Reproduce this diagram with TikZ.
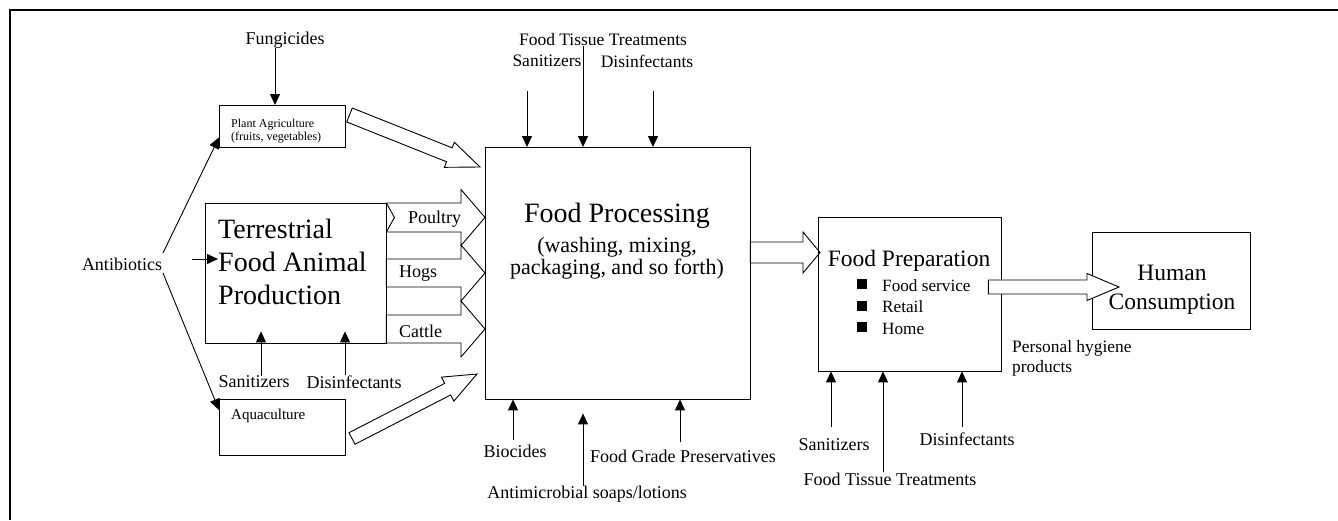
\documentclass[tikz,border=0pt]{standalone}
\usepackage{fontspec}
\setmainfont{Liberation Serif}
\usetikzlibrary{calc,arrows.meta}

\tikzset{
  box/.style={draw, line width=0.9pt, inner sep=0pt, anchor=north west},
  flow/.style={draw, fill=white, line width=0.9pt, line join=miter},
  inarrow/.style={line width=0.9pt, -{Triangle[length=11pt,width=10pt]}},
  lbl/.style={inner sep=0pt, font=\fontsize{18}{21}\selectfont},
  sublbl/.style={inner sep=0pt, font=\fontsize{17.5}{20}\selectfont},
  bigtxt/.style={inner sep=0pt, font=\fontsize{28}{33}\selectfont},
  midtxt/.style={inner sep=0pt, font=\fontsize{23.5}{29}\selectfont},
  bulletbox/.style={fill=black, rectangle, minimum size=10pt, inner sep=0pt},
}

% hollow block arrow: tail, tip, shaft half-width, head half-width, head length, tail notch depth
\newcommand\fatarrow[6]{%
  \coordinate (fahead) at ($(#2)!#5!(#1)$);
  \coordinate (fanotch) at ($(#1)!#6!(#2)$);
  \path[flow] ($(#1)!#3!90:(#2)$) -- ($(fahead)!#3!90:(#2)$) -- ($(fahead)!#4!90:(#2)$)
    -- (#2) -- ($(fahead)!#4!-90:(#2)$) -- ($(fahead)!#3!-90:(#2)$)
    -- ($(#1)!#3!-90:(#2)$) -- (fanotch) -- cycle;
}

\begin{document}
\begin{tikzpicture}[x=1pt,y=1pt]
\useasboundingbox (0,0) rectangle (1338,-520);
\draw[line width=2pt] (10,-520) -- (10,-10) -- (1338,-10);

% ---- box outlines (placed first so anchors exist) ----
\path (219,-105) node[minimum width=126pt, minimum height=42pt, inner sep=0pt, anchor=north west] (plant) {};
\path (205,-203) node[minimum width=181pt, minimum height=140pt, inner sep=0pt, anchor=north west] (terr) {};
\path (219,-399) node[minimum width=126pt, minimum height=56pt, inner sep=0pt, anchor=north west] (aqua) {};
\path (485,-147) node[minimum width=265pt, minimum height=252pt, inner sep=0pt, anchor=north west] (proc) {};
\path (818,-217) node[minimum width=183pt, minimum height=154pt, inner sep=0pt, anchor=north west] (prep) {};
\path (1092,-232) node[minimum width=158pt, minimum height=97pt, inner sep=0pt, anchor=north west] (human) {};

% ---- block arrows feeding food processing ----
\coordinate (plant-out) at (349.5,-115);
\coordinate (proc-in1) at (480,-167);
\fatarrow{plant-out}{proc-in1}{7.5pt}{13.5pt}{33pt}{0pt}
\coordinate (aqua-out) at (352,-438.5);
\coordinate (proc-in5) at (477,-374);
\fatarrow{aqua-out}{proc-in5}{6.5pt}{13.5pt}{33pt}{0pt}

\coordinate (poul-tail) at ($(terr.north east)+(0,-14.5pt)$);
\coordinate (poul-tip) at (proc.west |- poul-tail);
\fatarrow{poul-tail}{poul-tip}{14.5pt}{28pt}{24pt}{8pt}
\coordinate (hogs-tail) at ($(terr.north east)+(0,-70pt)$);
\coordinate (hogs-tip) at (proc.west |- hogs-tail);
\fatarrow{hogs-tail}{hogs-tip}{14pt}{28pt}{24pt}{0pt}
\coordinate (cat-tail) at ($(terr.north east)+(0,-126pt)$);
\coordinate (cat-tip) at (proc.west |- cat-tail);
\fatarrow{cat-tail}{cat-tip}{14pt}{28pt}{24pt}{0pt}

\coordinate (proc-out) at ($(proc.north east)+(0,-105.5pt)$);
\coordinate (prep-in) at ($(prep.west |- proc-out)+(2pt,0)$);
\fatarrow{proc-out}{prep-in}{10.5pt}{20.5pt}{17pt}{0pt}

% ---- box borders ----
\draw[line width=0.9pt] (plant.north west) rectangle (plant.south east);
\draw[line width=0.9pt] (terr.north west) rectangle (terr.south east);
\draw[line width=0.9pt] (aqua.north west) rectangle (aqua.south east);
\draw[line width=0.9pt] (proc.north west) rectangle (proc.south east);
\draw[line width=0.9pt] (prep.north west) rectangle (prep.south east);
\draw[line width=0.9pt] (human.north west) rectangle (human.south east);

% ---- food preparation to human consumption ----
\coordinate (prep-out) at ($(prep.north east)+(-13pt,-70pt)$);
\coordinate (human-in) at ($(human.north west)+(27pt,-55pt)$);
\fatarrow{prep-out}{human-in}{7pt}{13.5pt}{32pt}{0pt}

% ---- box texts ----
\node[inner sep=0pt, anchor=west, align=left, font=\fontsize{12}{13}\selectfont] (planttxt) at (231,-131) {Plant Agriculture\\(fruits, vegetables)};
\node[bigtxt, anchor=west, align=left] (terrtxt) at (218,-262) {Terrestrial\\Food Animal\\Production};
\node[inner sep=0pt, anchor=west, font=\fontsize{15}{18}\selectfont] (aquatxt) at (231,-416) {Aquaculture};
\node[lbl, anchor=west] (poultxt) at (408,-219) {Poultry};
\node[lbl, anchor=west] (hogstxt) at (399,-274) {Hogs};
\node[lbl, anchor=west] (cattxt) at (399,-331) {Cattle};

\node[bigtxt] (proctxt) at (617,-216) {Food Processing};
\node[inner sep=0pt, align=center, font=\fontsize{22}{22}\selectfont] (procsub) at (617,-258) {(washing, mixing,\\packaging, and so forth)};

\node[midtxt] (preptxt) at (909,-261) {Food Preparation};
\node[bulletbox] (b1) at (862,-284) {};
\node[bulletbox] (b2) at (862,-306) {};
\node[bulletbox] (b3) at (862,-327) {};
\node[inner sep=0pt, anchor=west, font=\fontsize{17.2}{20}\selectfont] (fsvc) at (882,-286) {Food service};
\node[inner sep=0pt, anchor=west, font=\fontsize{17.2}{20}\selectfont] (rtl) at (882,-307) {Retail};
\node[inner sep=0pt, anchor=west, font=\fontsize{17.2}{20}\selectfont] (hme) at (882,-329) {Home};

\node[midtxt, align=center] (humtxt) at (1172,-290) {Human\\Consumption};

\node[inner sep=0pt, anchor=west, align=left, font=\fontsize{17.4}{20}\selectfont] (hyg) at (1012,-358) {Personal hygiene\\products};

% ---- plant agriculture inputs ----
\node[lbl] (fung) at (285,-40) {Fungicides};
\coordinate (fungin) at ($(plant.north west)+(56pt,0)$);
\draw[inarrow] (fung.south -| fungin) -- (fungin);

% ---- antibiotics ----
\node[lbl] (abio) at (122,-264) {Antibiotics};
\coordinate (abio-up) at (163,-253);
\coordinate (abio-dn) at (163,-273);
\coordinate (abio-mid) at (192,-259);
\coordinate (plantin) at ($(plant.south west)+(0,10pt)$);
\coordinate (aquain) at ($(aqua.north west)+(0,-11pt)$);
\coordinate (terrin) at ($(terr.north west)+(13pt,-56pt)$);
\draw[inarrow] (abio-up) -- (plantin);
\draw[inarrow] (abio-dn) -- (aquain);
\draw[inarrow] (abio-mid) -- (terrin);

% ---- terrestrial production inputs ----
\node[lbl] (tsan) at (254,-382) {Sanitizers};
\node[lbl] (tdis) at (354,-382) {Disinfectants};
\coordinate (tsanin) at ($(terr.south west)+(56pt,12pt)$);
\coordinate (tdisin) at ($(terr.south west)+(140pt,12pt)$);
\draw[inarrow] (tsan.north -| tsanin) -- (tsanin);
\draw[inarrow] (tdis.north -| tdisin) -- (tdisin);

% ---- food processing inputs (top) ----
\node[sublbl] (ptis) at (603,-40) {Food Tissue Treatments};
\node[sublbl] (psan) at (547,-61) {Sanitizers};
\node[sublbl] (pdis) at (647,-61) {Disinfectants};
\coordinate (pa1) at ($(proc.north west)+(42pt,0)$);
\coordinate (pa2) at ($(proc.north west)+(98pt,0)$);
\coordinate (pa3) at ($(proc.north west)+(168pt,0)$);
\draw[inarrow] ($(pa1)+(0,56pt)$) -- (pa1);
\draw[inarrow] (ptis.south -| pa2) -- (pa2);
\draw[inarrow] ($(pa3)+(0,56pt)$) -- (pa3);

% ---- food processing inputs (bottom) ----
\node[lbl] (pbio) at (515,-451) {Biocides};
\node[lbl] (pami) at (587,-494) {Antimicrobial soaps/lotions};
\node[lbl] (pfgp) at (683,-456) {Food Grade Preservatives};
\coordinate (pb1) at ($(proc.south west)+(28pt,0)$);
\coordinate (pb2) at ($(proc.south west)+(98pt,-14pt)$);
\coordinate (pb3) at ($(proc.south west)+(195pt,0)$);
\draw[inarrow] ($(pb1)+(0,-41pt)$) -- (pb1);
\draw[inarrow] (pami.north -| pb2) -- (pb2);
\draw[inarrow] ($(pb3)+(0,-43pt)$) -- (pb3);

% ---- food preparation inputs ----
\node[lbl] (qsan) at (834,-445) {Sanitizers};
\node[lbl] (qtis) at (890,-479) {Food Tissue Treatments};
\node[lbl] (qdis) at (967,-439) {Disinfectants};
\coordinate (qa1) at ($(prep.south west)+(13pt,0)$);
\coordinate (qa2) at ($(prep.south west)+(65pt,0)$);
\coordinate (qa3) at ($(prep.south west)+(144pt,0)$);
\draw[inarrow] ($(qa1)+(0,-56pt)$) -- (qa1);
\draw[inarrow] (qtis.north -| qa2) -- (qa2);
\draw[inarrow] ($(qa3)+(0,-56pt)$) -- (qa3);
\end{tikzpicture}
\end{document}
